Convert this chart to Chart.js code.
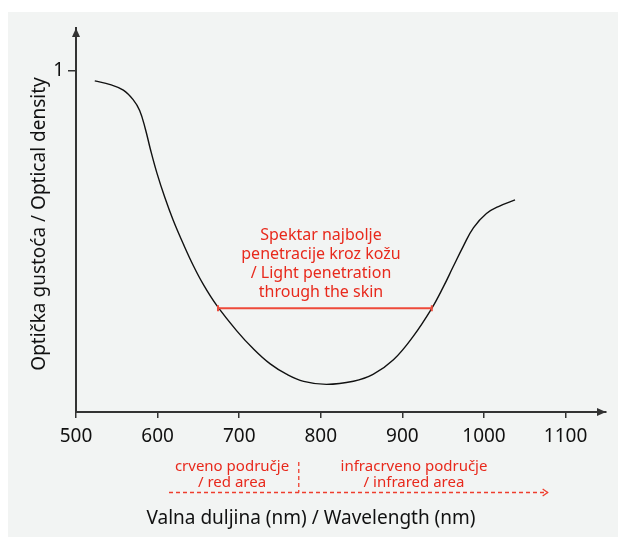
<!DOCTYPE html>
<html>
<head>
<meta charset="utf-8">
<script src="https://cdn.jsdelivr.net/npm/chart.js@4"></script>
<style>
  html, body { margin: 0; padding: 0; background: #fff; }
  canvas { display: block; }
</style>
</head>
<body>
<canvas id="chart" width="618" height="537"></canvas>
<script>
// curve: wavelength (nm) vs optical density
const wavelength = [523, 542, 558, 570, 578, 585, 591, 599, 609, 619, 632, 644, 656, 672, 697, 717, 738, 758, 779, 807, 840, 864, 889, 913, 936, 950, 962, 975, 987, 1003, 1019, 1038];
const density = [0.971, 0.960, 0.944, 0.916, 0.884, 0.830, 0.772, 0.702, 0.628, 0.563, 0.490, 0.428, 0.374, 0.314, 0.238, 0.186, 0.141, 0.111, 0.090, 0.081, 0.090, 0.110, 0.153, 0.221, 0.304, 0.366, 0.425, 0.488, 0.540, 0.582, 0.604, 0.622];

const xTicks = [500, 600, 700, 800, 900, 1000, 1100];
const yTicks = [1];

// best penetration band (nm) and the density level it is drawn at
const bandRange = [674, 936];
const bandLevel = 0.304;
const bandLabel = ['Spektar najbolje', 'penetracije kroz kožu', '/ Light penetration', 'through the skin'];

// red / infrared regions (nm)
const redRange = [614, 773];
const infraredRange = [773, 1078];
const redLabel = ['crveno područje', '/ red area'];
const infraredLabel = ['infracrveno područje', '/ infrared area'];

const xTitle = 'Valna duljina (nm) / Wavelength (nm)';
const yTitle = 'Optička gustoća / Optical density';

const FONT = '"Noto Sans", sans-serif';
const RED = '#e8291c';
const AXIS = '#333333';

const decorations = {
  id: 'decorations',
  beforeDraw(chart) {
    const ctx = chart.ctx;
    ctx.save();
    ctx.fillStyle = '#fff';
    ctx.fillRect(0, 0, chart.width, chart.height);
    ctx.fillStyle = '#f2f4f3';
    ctx.fillRect(8, 12, chart.width - 8, chart.height - 12);
    ctx.restore();
  },
  afterDraw(chart) {
    const ctx = chart.ctx;
    const xs = chart.scales.x, ys = chart.scales.y;
    const area = chart.chartArea;
    ctx.save();

    // axis arrowheads
    ctx.fillStyle = AXIS;
    ctx.beginPath();
    ctx.moveTo(area.left, area.top);
    ctx.lineTo(area.left - 4, area.top + 9);
    ctx.lineTo(area.left + 4, area.top + 9);
    ctx.closePath();
    ctx.fill();
    ctx.beginPath();
    ctx.moveTo(area.right, area.bottom);
    ctx.lineTo(area.right - 9, area.bottom - 4);
    ctx.lineTo(area.right - 9, area.bottom + 4);
    ctx.closePath();
    ctx.fill();

    // penetration band
    const by = ys.getPixelForValue(bandLevel);
    const bx1 = xs.getPixelForValue(bandRange[0]);
    const bx2 = xs.getPixelForValue(bandRange[1]);
    ctx.strokeStyle = '#ee4a3a';
    ctx.lineWidth = 2;
    ctx.beginPath();
    ctx.moveTo(bx1, by); ctx.lineTo(bx2, by);
    ctx.moveTo(bx1, by - 3); ctx.lineTo(bx1, by + 3);
    ctx.moveTo(bx2, by - 3); ctx.lineTo(bx2, by + 3);
    ctx.stroke();

    ctx.fillStyle = RED;
    ctx.textAlign = 'center';
    ctx.textBaseline = 'middle';
    ctx.font = '16px ' + FONT;
    bandLabel.forEach((t, i) => ctx.fillText(t, 321, 235 + i * 19));

    // region labels
    ctx.font = '15px ' + FONT;
    redLabel.forEach((t, i) => ctx.fillText(t, 232, 467 + i * 16));
    infraredLabel.forEach((t, i) => ctx.fillText(t, 414, 467 + i * 16));

    // dashed region lines
    const dy = 492.5;
    const rx1 = xs.getPixelForValue(redRange[0]);
    const rx2 = xs.getPixelForValue(redRange[1]);
    const ix2 = xs.getPixelForValue(infraredRange[1]);
    ctx.strokeStyle = '#ee3d2d';
    ctx.lineWidth = 1.3;
    ctx.setLineDash([4, 3]);
    ctx.beginPath();
    ctx.moveTo(rx1, dy); ctx.lineTo(ix2, dy);
    ctx.moveTo(rx2, 462); ctx.lineTo(rx2, dy);
    ctx.stroke();
    ctx.setLineDash([]);
    ctx.beginPath();
    ctx.moveTo(ix2 - 5, dy - 3.5);
    ctx.lineTo(ix2, dy);
    ctx.lineTo(ix2 - 5, dy + 3.5);
    ctx.stroke();

    // axis titles
    ctx.fillStyle = '#111';
    ctx.font = '19px ' + FONT;
    ctx.textBaseline = 'alphabetic';
    ctx.fillText(xTitle, 311, 524);
    ctx.translate(45, 224);
    ctx.rotate(-Math.PI / 2);
    ctx.fillText(yTitle, 0, 0);

    ctx.restore();
  }
};

new Chart(document.getElementById('chart'), {
  type: 'line',
  data: {
    datasets: [{
      data: wavelength.map((w, i) => ({ x: w, y: density[i] })),
      borderColor: '#111',
      borderWidth: 1.4,
      pointRadius: 0,
      tension: 0.4,
      fill: false
    }]
  },
  options: {
    responsive: false,
    animation: false,
    layout: { padding: { top: 28, right: 12, left: 0, bottom: 0 } },
    plugins: {
      legend: { display: false },
      tooltip: { enabled: false }
    },
    scales: {
      x: {
        type: 'linear',
        min: 500,
        max: 1149.5,
        afterBuildTicks: scale => { scale.ticks = xTicks.map(v => ({ value: v })); },
        afterFit: scale => { scale.height = 125; },
        border: { display: true, color: AXIS, width: 2 },
        grid: { drawOnChartArea: false, drawTicks: true, tickLength: 6, color: AXIS, lineWidth: 1.5 },
        ticks: { color: '#111', font: { family: FONT, size: 19 }, padding: 7, maxRotation: 0, callback: v => String(v) }
      },
      y: {
        type: 'linear',
        min: 0,
        max: 1.126,
        afterBuildTicks: scale => { scale.ticks = yTicks.map(v => ({ value: v })); },
        afterFit: scale => { scale.width = 76; },
        border: { display: true, color: AXIS, width: 2 },
        grid: { drawOnChartArea: false, drawTicks: true, tickLength: 8, color: AXIS, lineWidth: 1.5 },
        ticks: { color: '#111', font: { family: FONT, size: 19 }, padding: 4, callback: v => String(v) }
      }
    }
  },
  plugins: [decorations]
});
</script>
</body>
</html>
